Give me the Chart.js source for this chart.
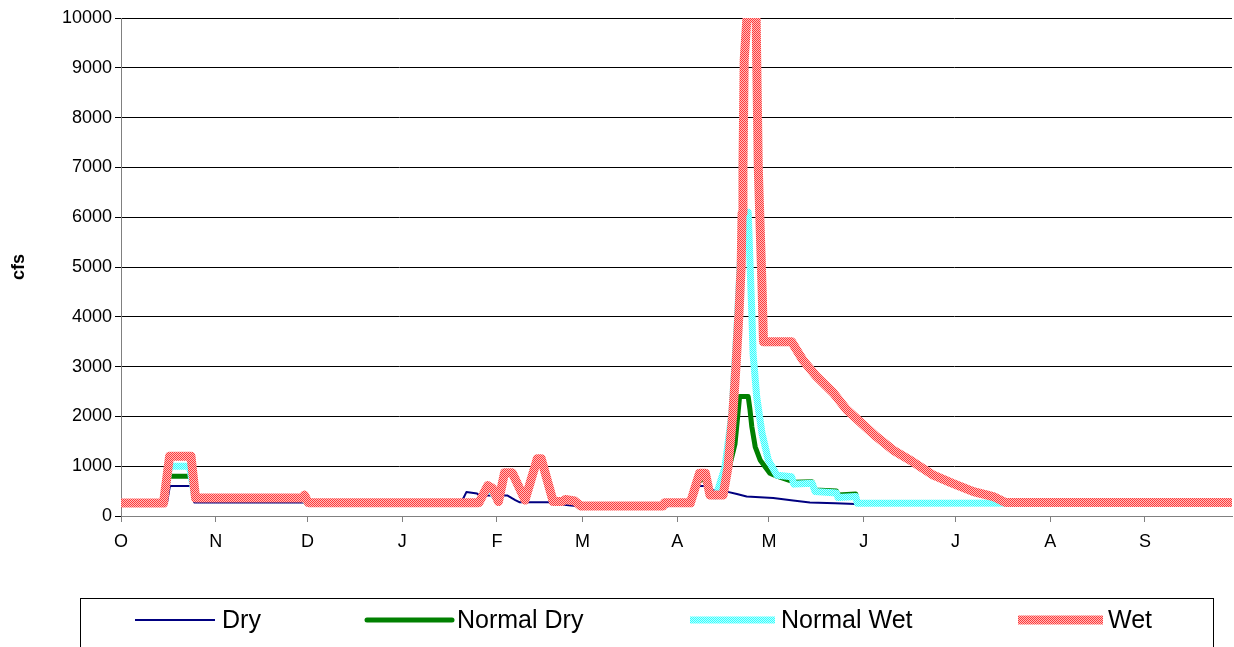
<!DOCTYPE html>
<html>
<head>
<meta charset="utf-8">
<script src="https://cdn.jsdelivr.net/npm/chart.js@4.4.1/dist/chart.umd.min.js"></script>
<style>
  html, body { margin: 0; padding: 0; background: #fff; }
  #wrap { width: 1234px; height: 647px; position: relative; }
</style>
</head>
<body>
<div id="wrap"><canvas id="flowChart"></canvas></div>
<script>
// Water year, day 0 = Oct 1
const monthDays = [0, 31, 61, 92, 123, 151, 182, 212, 243, 273, 304, 335];
const monthLabels = ['O', 'N', 'D', 'J', 'F', 'M', 'A', 'M', 'J', 'J', 'A', 'S'];

// Dry
const dryDay  = [0, 15, 16, 23, 24, 60.3, 61.3, 111, 113, 116.5, 117.5, 126.5, 129, 130.5, 140.5, 142.5, 150.5, 178.8, 179.3, 186.8, 188.8, 192.2, 193.2, 198.2, 201.5, 204.7, 213.4, 219.9, 225.4, 233.7, 240.2, 365];
const dryFlow = [250, 250, 600, 600, 270, 270, 230, 230, 480, 450, 410, 410, 320, 275, 275, 240, 190, 190, 250, 250, 600, 600, 520, 490, 440, 390, 360, 310, 270, 255, 240, 245];

// Normal Dry
const ndDay  = [0, 13.4, 15.4, 22.9, 24.4, 59.3, 61.3, 117.1, 120, 123.5, 125, 128, 132, 136.2, 137.5, 141, 144.4, 145.4, 148.4, 150.4, 177.3, 177.8, 186.3, 188.8, 191.7, 192.7, 196.7, 198.7, 200.9, 202.4, 205.2, 205.8, 206.4, 207.5, 209.1, 212.3, 214.6, 219.4, 220.1, 226.1, 227.1, 234.1, 234.6, 240.4, 240.9, 365];
const ndFlow = [260, 260, 800, 800, 390, 390, 265, 265, 600, 280, 860, 860, 300, 1130, 1130, 280, 290, 330, 300, 200, 200, 265, 265, 700, 760, 470, 420, 900, 1450, 2400, 2400, 2130, 1790, 1390, 1125, 860, 800, 700, 680, 690, 520, 500, 420, 440, 265, 265];

// Normal Wet
const nwDay  = [0, 13.9, 15.9, 22.4, 24.2, 59.3, 61.3, 117.1, 120, 123.5, 125.5, 128, 132.2, 136.2, 137.5, 141.4, 144.4, 145.4, 148.4, 150.4, 177.3, 177.8, 186.3, 189.3, 191.2, 192.7, 194.7, 197.6, 199.9, 201.5, 202.6, 203.6, 205.2, 205.8, 206.4, 206.8, 208, 209.7, 211.8, 214.6, 219.4, 220.1, 226.1, 227.1, 234.1, 234.6, 240.4, 240.9, 365];
const nwFlow = [260, 260, 1000, 1000, 360, 360, 265, 265, 600, 290, 860, 860, 320, 1130, 1130, 290, 290, 330, 300, 200, 200, 265, 265, 850, 850, 420, 400, 980, 2070, 3730, 5080, 5740, 6100, 5080, 4080, 3270, 2390, 1670, 1120, 820, 790, 640, 660, 490, 460, 370, 390, 255, 260];

// Wet
const wetDay  = [0, 13.9, 15.9, 22.9, 24.4, 59.3, 60, 61.3, 117.1, 120, 121.5, 123.5, 125.5, 128, 132.2, 136.2, 137.5, 141.4, 144.4, 145.4, 148.4, 150.4, 177.3, 177.8, 186.3, 189.3, 191.2, 192.7, 197, 198.6, 200.2, 201.2, 202.2, 202.9, 203.2, 203.5, 203.9, 204.8, 207.8, 208.5, 209.8, 210.2, 219.4, 223.1, 227.6, 233.1, 237.5, 241.8, 247.2, 252.6, 259, 265.8, 271.9, 278.9, 285.4, 289.4, 365];
const wetFlow = [260, 260, 1200, 1200, 360, 360, 420, 265, 265, 610, 560, 290, 870, 870, 320, 1150, 1150, 290, 290, 330, 300, 200, 200, 265, 265, 860, 860, 420, 420, 980, 2070, 2990, 4080, 5000, 6080, 7010, 9160, 10000, 10000, 7000, 4480, 3500, 3500, 3130, 2800, 2470, 2130, 1890, 1590, 1325, 1090, 820, 660, 490, 390, 270, 270];

const yTicks = [0, 1000, 2000, 3000, 4000, 5000, 6000, 7000, 8000, 9000, 10000];

function pts(days, flows) {
  return days.map((d, i) => ({ x: d, y: flows[i] }));
}

// Excel-ish dithered line fills
function dither(c1, c2) {
  const p = document.createElement('canvas');
  p.width = 2; p.height = 2;
  const g = p.getContext('2d');
  g.fillStyle = c2; g.fillRect(0, 0, 2, 2);
  g.fillStyle = c1; g.fillRect(0, 0, 1, 1); g.fillRect(1, 1, 1, 1);
  return g.createPattern(p, 'repeat');
}
const wetStroke = dither('#ff3c3c', '#ffbcbc');
const nwStroke = dither('#33ffff', '#b8ffff');

const FONT = "'Liberation Sans', Arial, sans-serif";

// Legend drawn inside a framed box under the axis, like the original
const legendBox = {
  id: 'legendBox',
  afterDraw(chart) {
    const ctx = chart.ctx;
    ctx.save();
    ctx.strokeStyle = '#000';
    ctx.lineWidth = 1;
    ctx.strokeRect(80.5, 598.5, 1133, 70);
    const items = [
      { ds: 0, x1: 135, x2: 215, tx: 222 },
      { ds: 1, x1: 367, x2: 452, tx: 457 },
      { ds: 2, x1: 690, x2: 775, tx: 781 },
      { ds: 3, x1: 1018, x2: 1103, tx: 1108 }
    ];
    ctx.font = '25px ' + FONT;
    ctx.textBaseline = 'middle';
    ctx.fillStyle = '#000';
    items.forEach(it => {
      const ds = chart.data.datasets[it.ds];
      ctx.beginPath();
      ctx.strokeStyle = ds.borderColor;
      ctx.lineWidth = ds.borderWidth;
      ctx.lineCap = ds.borderWidth === 5 ? 'round' : 'butt';
      ctx.moveTo(it.x1, 620);
      ctx.lineTo(it.x2, 620);
      ctx.stroke();
      ctx.fillText(ds.label, it.tx, 621);
    });
    ctx.restore();
  }
};

new Chart(document.getElementById('flowChart'), {
  type: 'line',
  data: {
    datasets: [
      { label: 'Dry', data: pts(dryDay, dryFlow), borderColor: '#000080', borderWidth: 2, order: 4 },
      { label: 'Normal Dry', data: pts(ndDay, ndFlow), borderColor: '#008000', borderWidth: 5, order: 3 },
      { label: 'Normal Wet', data: pts(nwDay, nwFlow), borderColor: nwStroke, borderWidth: 7, order: 2 },
      { label: 'Wet', data: pts(wetDay, wetFlow), borderColor: wetStroke, borderWidth: 9, order: 1 }
    ]
  },
  options: {
    responsive: true,
    maintainAspectRatio: false,
    animation: false,
    events: [],
    layout: { padding: { top: 18, right: 2, left: 0, bottom: 0 } },
    elements: {
      point: { radius: 0 },
      line: { tension: 0, fill: false, borderJoinStyle: 'round' }
    },
    plugins: {
      legend: { display: false },
      tooltip: { enabled: false }
    },
    scales: {
      x: {
        type: 'linear',
        min: 0,
        max: 363.5,
        afterBuildTicks: (scale) => { scale.ticks = monthDays.map(v => ({ value: v })); },
        afterFit: (scale) => { scale.height = 131; },
        ticks: {
          autoSkip: false,
          maxRotation: 0,
          padding: 9,
          color: '#000',
          font: { family: FONT, size: 18 },
          callback: (v, i) => monthLabels[i]
        },
        grid: { drawOnChartArea: false, drawTicks: true, tickLength: 6, color: '#808080' },
        border: { color: '#808080', width: 1 }
      },
      y: {
        min: 0,
        max: 10000,
        afterBuildTicks: (scale) => { scale.ticks = yTicks.map(v => ({ value: v })); },
        afterFit: (scale) => { scale.width = 121; },
        ticks: {
          padding: 3,
          color: '#000',
          font: { family: FONT, size: 18 },
          callback: (v) => String(v)
        },
        grid: { color: '#000', lineWidth: 1, tickLength: 6 },
        border: { color: '#808080', width: 1 },
        title: {
          display: true,
          text: 'cfs',
          color: '#000',
          font: { family: FONT, size: 18, weight: 'bold' },
          padding: { top: 8, bottom: 0 }
        }
      }
    }
  },
  plugins: [legendBox]
});
</script>
</body>
</html>
